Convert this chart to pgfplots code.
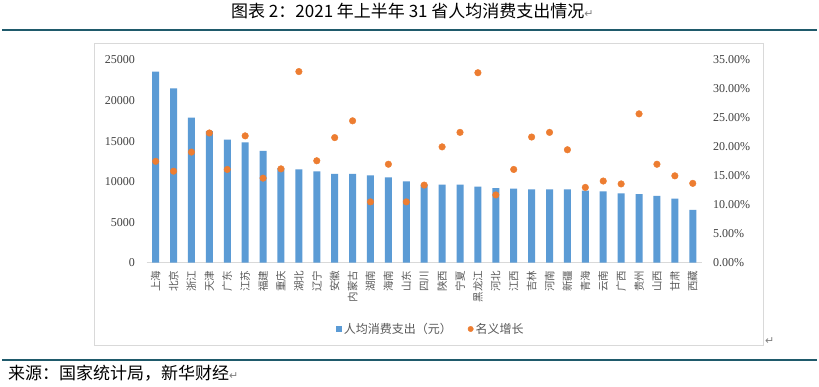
\documentclass[border=0pt]{standalone}
\usepackage{pgfplots}
\pgfplotsset{compat=1.18}
\usepackage{fontspec}
\setmainfont{Liberation Serif}
\newfontfamily\cjk{Noto Sans CJK SC}
\newfontfamily\symf{DejaVu Sans}
\definecolor{barblue}{HTML}{5B9BD5}
\definecolor{dotorange}{HTML}{ED7D31}
\definecolor{tealline}{HTML}{1F5A6B}
\definecolor{boxgray}{HTML}{D9D9D9}
\definecolor{lblgray}{HTML}{404040}
\definecolor{catgray}{HTML}{595959}

\pgfplotstableread{
idx spend growth
0 23560 17.5
1 21510 15.8
2 17890 19.1
3 16240 22.4
4 15170 16.1
5 14850 21.9
6 13780 14.6
7 11680 16.2
8 11520 33.0
9 11270 17.6
10 10940 21.6
11 10940 24.5
12 10780 10.5
13 10530 17.0
14 10040 10.5
15 9620 13.4
16 9620 20.0
17 9620 22.5
18 9370 32.8
19 9210 11.7
20 9130 16.1
21 9050 21.7
22 9050 22.5
23 9050 19.5
24 8880 13.0
25 8800 14.1
26 8560 13.6
27 8470 25.7
28 8230 17.0
29 7890 15.0
30 6500 13.7
}\datatable

\begin{document}
\begin{tikzpicture}[x=1pt,y=1pt]
\fill[white] (0,0) rectangle (819,387);
% title
\node[anchor=west, inner sep=0pt, font=\cjk\fontsize{17}{17}\selectfont] at (231,376)
  {图表 2：2021 年上半年 31 省人均消费支出情况{\color{gray}\symf\fontsize{11}{11}\selectfont ↵}};
\draw[tealline, line width=2pt] (2,357) -- (817,357);
% chart box
\draw[boxgray, line width=1pt] (94,343) rectangle (763,41.3);
\node[anchor=west, inner sep=0pt, text=gray, font=\symf\fontsize{11}{11}\selectfont] at (765,46) {↵};
\draw[tealline, line width=2pt] (2,27) -- (817,27);
\node[anchor=west, inner sep=0pt, font=\cjk\fontsize{17}{17}\selectfont] at (8,13.5)
  {来源：国家统计局，新华财经{\color{gray}\symf\fontsize{11}{11}\selectfont ↵}};

\begin{axis}[
  at={(146.7pt,124.3pt)}, anchor=south west,
  scale only axis, width=555pt, height=202.7pt,
  xmin=-0.5, xmax=30.5, ymin=0, ymax=25000,
  scaled y ticks=false,
  axis x line*=bottom, axis y line*=left,
  x axis line style={draw=boxgray, line width=1pt},
  y axis line style={draw=none},
  major tick length=0pt, tick style={draw=none},
  ytick={0,5000,10000,15000,20000,25000},
  yticklabels={0,5000,10000,15000,20000,25000},
  yticklabel style={anchor=east, inner sep=0pt, xshift=-11.7pt,
    font=\fontsize{12}{12}\selectfont, text=lblgray},
  xtick={0,...,30},
  xticklabels={上海,北京,浙江,天津,广东,江苏,福建,重庆,湖北,辽宁,安徽,内蒙古,湖南,海南,山东,四川,陕西,宁夏,黑龙江,河北,江西,吉林,河南,新疆,青海,云南,广西,贵州,山西,甘肃,西藏},
  xticklabel style={rotate=90, anchor=east, inner sep=0pt,
    font=\cjk\fontsize{10.5}{10.5}\selectfont, text=catgray},
  xticklabel shift=8pt,
  legend style={at={(0.512,-0.327)}, anchor=center, draw=none, fill=none,
    font=\cjk\fontsize{12}{12}\selectfont, text=catgray,
    /tikz/every even column/.append style={column sep=14pt}},
  legend columns=2, legend cell align=left,
]
\addplot[ybar, bar width=7pt, fill=barblue, draw=none, forget plot]
  table[x=idx, y=spend] {\datatable};
\addlegendimage{legend image code/.code={\fill[barblue] (0pt,-2.6pt) rectangle (5.2pt,2.6pt);}}
\addlegendentry{人均消费支出（元）}
\addlegendimage{legend image code/.code={\fill[dotorange] (2.6pt,0pt) circle (2.7pt);}}
\addlegendentry{名义增长}
\end{axis}

\begin{axis}[
  at={(146.7pt,124.3pt)}, anchor=south west,
  scale only axis, width=555pt, height=202.7pt,
  xmin=-0.5, xmax=30.5, ymin=0, ymax=35,
  axis x line=none, axis y line*=right,
  y axis line style={draw=none},
  major tick length=0pt, tick style={draw=none},
  ytick={0,5,10,15,20,25,30,35},
  yticklabels={0.00\%,5.00\%,10.00\%,15.00\%,20.00\%,25.00\%,30.00\%,35.00\%},
  yticklabel style={anchor=west, inner sep=0pt, xshift=11.3pt,
    font=\fontsize{12}{12}\selectfont, text=lblgray},
]
\addplot[only marks, mark=*, color=dotorange, mark size=3.3pt, mark options={fill=dotorange, draw=dotorange}]
  table[x=idx, y=growth] {\datatable};
\end{axis}
\end{tikzpicture}
\end{document}
